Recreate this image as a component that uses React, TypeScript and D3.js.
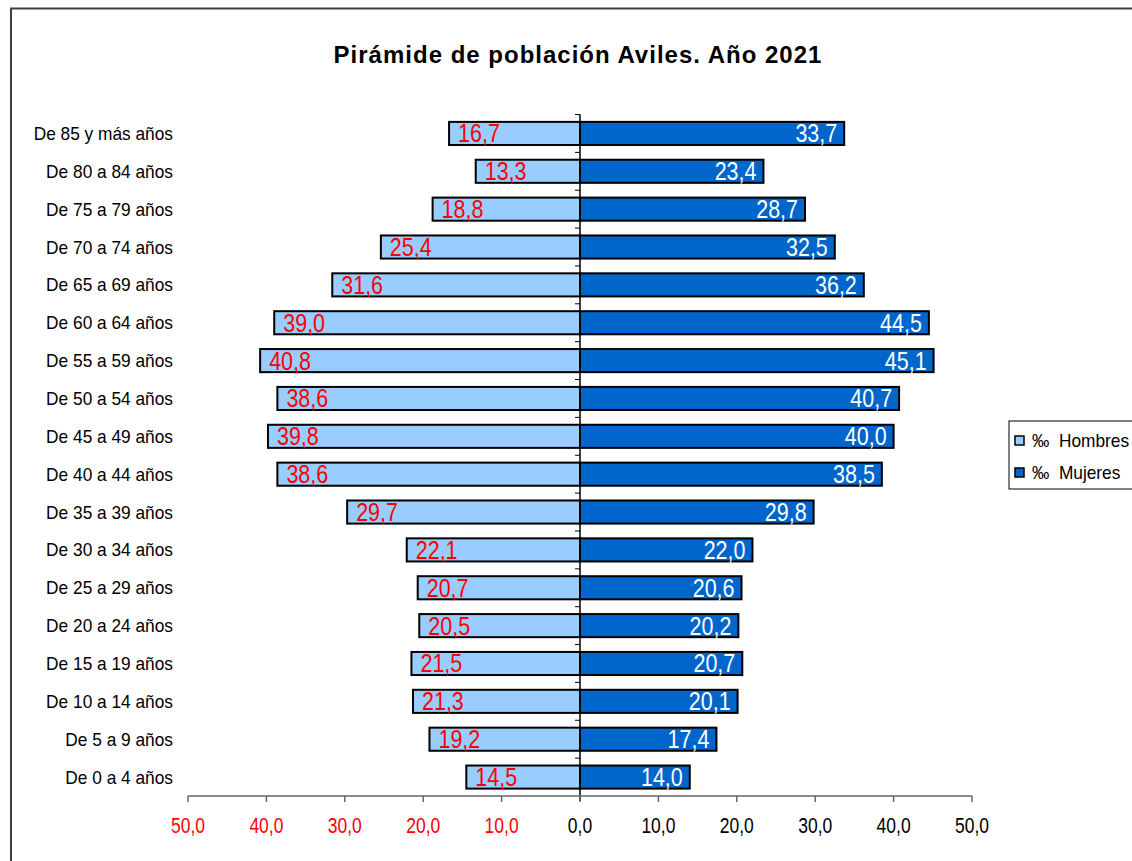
import React from "react";
import * as d3 from "d3";

const categories = [
  "De 85 y más años", "De 80 a 84 años", "De 75 a 79 años", "De 70 a 74 años",
  "De 65 a 69 años", "De 60 a 64 años", "De 55 a 59 años", "De 50 a 54 años",
  "De 45 a 49 años", "De 40 a 44 años", "De 35 a 39 años", "De 30 a 34 años",
  "De 25 a 29 años", "De 20 a 24 años", "De 15 a 19 años", "De 10 a 14 años",
  "De 5 a 9 años", "De 0 a 4 años",
];
const hombres = [16.7, 13.3, 18.8, 25.4, 31.6, 39.0, 40.8, 38.6, 39.8, 38.6, 29.7, 22.1, 20.7, 20.5, 21.5, 21.3, 19.2, 14.5];
const mujeres = [33.7, 23.4, 28.7, 32.5, 36.2, 44.5, 45.1, 40.7, 40.0, 38.5, 29.8, 22.0, 20.6, 20.2, 20.7, 20.1, 17.4, 14.0];
const xTicks = [-50, -40, -30, -20, -10, 0, 10, 20, 30, 40, 50];
const title = "Pirámide de población Aviles. Año 2021";
const legendLabels = ["‰  Hombres", "‰  Mujeres"];

const W = 1132;
const H = 861;
const FONT = "Arial, 'Liberation Sans', Helvetica, sans-serif";
const LIGHT = "#99CCFF";
const DARK = "#0066CC";

const fmt = (v: number) => Math.abs(v).toFixed(1).replace(".", ",");

export default function App() {
  const x = d3.scaleLinear().domain([-50, 50]).range([188, 972]);
  const y = d3
    .scaleBand<string>()
    .domain(categories)
    .range([114.5, 796])
    .paddingInner(0.39)
    .paddingOuter(0.195);
  const x0 = x(0);
  const axisY = 796;
  const bw = y.bandwidth();

  return (
    <svg
      width={W}
      height={H}
      style={{ position: "absolute", left: 0, top: 0, background: "#fff" }}
      fontFamily={FONT}
    >
      <rect x={0} y={0} width={W} height={H} fill="#fff" />
      <rect x={11} y={8.5} width={1140} height={900} fill="none" stroke="#404040" strokeWidth={2} />
      <text
        x={578}
        y={63}
        textAnchor="middle"
        fontSize={24}
        fontWeight="bold"
        letterSpacing={1}
        fill="#000"
      >
        {title}
      </text>

      {/* bars */}
      {categories.map((c, i) => {
        const yy = y(c) as number;
        return (
          <g key={c}>
            <rect
              x={x(-hombres[i])}
              y={yy}
              width={x0 - x(-hombres[i])}
              height={bw}
              fill={LIGHT}
              stroke="#000"
              strokeWidth={2}
            />
            <rect
              x={x0}
              y={yy}
              width={x(mujeres[i]) - x0}
              height={bw}
              fill={DARK}
              stroke="#000"
              strokeWidth={2}
            />
          </g>
        );
      })}

      {/* value labels */}
      {categories.map((c, i) => {
        const cy = (y(c) as number) + bw / 2;
        const lx = x(-hombres[i]) + 9;
        const rx = x(mujeres[i]) - 7;
        return (
          <g key={"l" + c} fontSize={21.5}>
            <text
              transform={`translate(${lx},${cy + 9}) scale(1,1.17)`}
              fill="#FF0000"
              textAnchor="start"
            >
              {fmt(hombres[i])}
            </text>
            <text
              transform={`translate(${rx},${cy + 9}) scale(1,1.17)`}
              fill="#FFFFFF"
              textAnchor="end"
            >
              {fmt(mujeres[i])}
            </text>
          </g>
        );
      })}

      {/* category axis */}
      <line x1={x0} x2={x0} y1={114.5} y2={axisY + 5} stroke="#000" strokeWidth={1.5} />
      {categories.map((c) => (
        <line
          key={"t" + c}
          x1={x0 - 5}
          x2={x0}
          y1={y(c)! - (y.step() * y.paddingInner()) / 2}
          y2={y(c)! - (y.step() * y.paddingInner()) / 2}
          stroke="#000"
          strokeWidth={1}
        />
      ))}
      {categories.map((c) => (
        <text
          key={"c" + c}
          transform={`translate(173,${(y(c) as number) + bw / 2 + 6.5}) scale(1,1.1)`}
          textAnchor="end"
          fontSize={17.3}
          fill="#000"
        >
          {c}
        </text>
      ))}

      {/* value axis */}
      <line x1={x(-50)} x2={x(50)} y1={axisY} y2={axisY} stroke="#666" strokeWidth={1.5} />
      {xTicks.map((t) => (
        <g key={"x" + t}>
          <line x1={x(t)} x2={x(t)} y1={axisY} y2={axisY + 6} stroke="#666" strokeWidth={1.5} />
          <text
            transform={`translate(${x(t)},${833}) scale(1,1.22)`}
            textAnchor="middle"
            fontSize={17.5}
            fill={t < 0 ? "#FF0000" : "#000"}
          >
            {fmt(t)}
          </text>
        </g>
      ))}

      {/* legend */}
      <rect x={1009} y={421} width={140} height={68} fill="#fff" stroke="#000" strokeWidth={1} />
      {legendLabels.map((l, i) => (
        <g key={l}>
          <rect
            x={1015}
            y={436 + i * 32}
            width={9}
            height={9}
            fill={i === 0 ? LIGHT : DARK}
            stroke="#000"
            strokeWidth={1.5}
          />
          <text
            transform={`translate(1032,${447 + i * 32}) scale(1,1.1)`}
            fontSize={17.3}
            fill="#000"
            xmlSpace="preserve"
          >
            {l}
          </text>
        </g>
      ))}
    </svg>
  );
}
